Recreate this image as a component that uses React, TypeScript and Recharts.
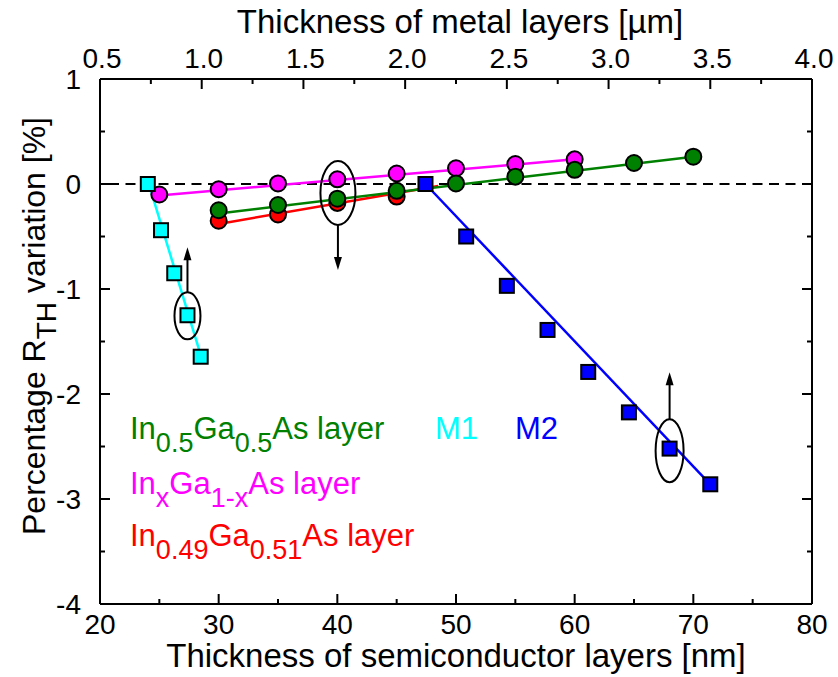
import React from 'react';
import { ComposedChart, Scatter, XAxis, YAxis, ReferenceLine } from 'recharts';

// semiconductor layers (bottom axis, nm)
const inGaAs05Nm = [30, 35, 40, 45, 50, 55, 60, 65, 70];
const inGaAs05Var = [-0.25, -0.2, -0.14, -0.065, 0.005, 0.07, 0.135, 0.2, 0.26];
const inGaAsXNm = [25, 30, 35, 40, 45, 50, 55, 60];
const inGaAsXVar = [-0.1, -0.05, 0.005, 0.045, 0.1, 0.15, 0.19, 0.235];
const inGaAs049Nm = [30, 35, 40, 45];
const inGaAs049Var = [-0.35, -0.29, -0.18, -0.12];

// metal layers (top axis, um)
const m1Um = [0.735, 0.8, 0.865, 0.93, 0.995];
const m1Var = [0, -0.44, -0.85, -1.25, -1.645];
const m2Um = [2.1, 2.3, 2.5, 2.7, 2.9, 3.1, 3.3, 3.5];
const m2Var = [0, -0.5, -0.97, -1.39, -1.79, -2.175, -2.52, -2.86];

// fitted lines (end points)
const fit05 = [{ x: 30, y: -0.28 }, { x: 70, y: 0.26 }];
const fitX = [{ x: 25, y: -0.11 }, { x: 60, y: 0.235 }];
const fit049 = [{ x: 30, y: -0.38 }, { x: 48.5, y: -0.02 }];
const fitM1 = [{ x: 0.74, y: 0 }, { x: 1.0, y: -1.66 }];
const fitM2 = [{ x: 2.1, y: 0 }, { x: 3.5, y: -2.86 }];

// ellipse markers pointing to the axis each group uses
const markM1 = [{ x: 0.93, y: -1.255 }];
const markSemi = [{ x: 40.05, y: -0.085 }];
const markM2 = [{ x: 3.3, y: -2.54 }];

const nmTicks = [20, 25, 30, 35, 40, 45, 50, 55, 60, 65, 70, 75, 80];
const umTicks = [0.5, 0.75, 1, 1.25, 1.5, 1.75, 2, 2.25, 2.5, 2.75, 3, 3.25, 3.5, 3.75, 4];
const yTicks = [-4, -3.5, -3, -2.5, -2, -1.5, -1, -0.5, 0, 0.5, 1];

// label pieces: [text, isSubscript]
const label05: [string, boolean][] = [['In', false], ['0.5', true], ['Ga', false], ['0.5', true], ['As layer', false]];
const labelX: [string, boolean][] = [['In', false], ['x', true], ['Ga', false], ['1-x', true], ['As layer', false]];
const label049: [string, boolean][] = [['In', false], ['0.49', true], ['Ga', false], ['0.51', true], ['As layer', false]];
const labelY: [string, boolean][] = [['Percentage R', false], ['TH', true], [' variation [%]', false]];

const toPoints = (xs: number[], ys: number[]) => xs.map((x, i) => ({ x, y: ys[i] }));

const FONT = '"Liberation Sans", Arial, sans-serif';
const TICK_FS = 28;
const MAJOR = 10;
const MINOR = 5;

const circle = (color: string) => (p: any) => (
  <circle cx={p.cx} cy={p.cy} r={8} fill={color} stroke="#000" strokeWidth={2} />
);
const square = (color: string) => (p: any) => (
  <rect x={p.cx - 7} y={p.cy - 7} width={14} height={14} fill={color} stroke="#000" strokeWidth={2} />
);
const noDot = () => <g />;

const ellipseMark = (rx: number, ry: number, dir: number, len: number) => (p: any) => {
  const start = p.cy + dir * ry;
  const tip = start + dir * len;
  return (
    <g>
      <ellipse cx={p.cx} cy={p.cy} rx={rx} ry={ry} fill="none" stroke="#000" strokeWidth={2} />
      <line x1={p.cx} y1={start} x2={p.cx} y2={tip - dir * 12} stroke="#000" strokeWidth={2} />
      <path d={`M${p.cx - 4},${tip - dir * 13} L${p.cx + 4},${tip - dir * 13} L${p.cx},${tip} Z`} fill="#000" />
    </g>
  );
};

const isMult = (v: number, step: number) => Math.abs(v / step - Math.round(v / step)) < 1e-6;

const BottomTick = (p: any) => {
  const v = p.payload.value;
  const axisY = p.y - 8;
  const major = isMult(v, 10);
  return (
    <g>
      <line x1={p.x} x2={p.x} y1={axisY} y2={axisY - (major ? MAJOR : MINOR)} stroke="#000" strokeWidth={2} />
      {major && (
        <text x={p.x} y={axisY + 30} textAnchor="middle" fontSize={TICK_FS} fontFamily={FONT} fill="#000">
          {v}
        </text>
      )}
    </g>
  );
};

const TopTick = (p: any) => {
  const v = p.payload.value;
  const axisY = p.y + 8;
  const major = isMult(v, 0.5);
  return (
    <g>
      <line x1={p.x} x2={p.x} y1={axisY} y2={axisY + (major ? MAJOR : MINOR)} stroke="#000" strokeWidth={2} />
      {major && (
        <text x={p.x + 2} y={axisY - 11} textAnchor="middle" fontSize={TICK_FS} fontFamily={FONT} fill="#000">
          {v.toFixed(1)}
        </text>
      )}
    </g>
  );
};

const LeftTick = (p: any) => {
  const v = p.payload.value;
  const axisX = p.x + 18;
  const major = isMult(v, 1);
  return (
    <g>
      <line x1={axisX} x2={axisX + (major ? MAJOR : MINOR)} y1={p.y} y2={p.y} stroke="#000" strokeWidth={2} />
      {major && (
        <text x={axisX - 19} y={p.y + 10} textAnchor="end" fontSize={TICK_FS} fontFamily={FONT} fill="#000">
          {String(v)}
        </text>
      )}
    </g>
  );
};

const RightTick = (p: any) => {
  const v = p.payload.value;
  const axisX = p.x - 4;
  const major = isMult(v, 1);
  return <line x1={axisX} x2={axisX - (major ? MAJOR : MINOR)} y1={p.y} y2={p.y} stroke="#000" strokeWidth={2} />;
};

const axisLine = { stroke: '#000', strokeWidth: 2 };

// text with subscripts: each piece shifts relative to the previous one
const pieces = (parts: [string, boolean][], subSize: number, shift: number) =>
  parts.map(([t, sub], i) => {
    const prevSub = i > 0 && parts[i - 1][1];
    const dy = (sub ? shift : 0) - (prevSub ? shift : 0);
    return (
      <tspan key={i} dy={dy} fontSize={sub ? subSize : undefined}>
        {t}
      </tspan>
    );
  });

export default function App() {
  return (
    <div style={{ position: 'absolute', left: 0, top: 0, width: 838, height: 677, background: '#fff' }}>
      <ComposedChart width={838} height={677} margin={{ top: 19, right: 16, bottom: 13, left: 40 }}>
        <XAxis
          xAxisId="nm"
          dataKey="x"
          type="number"
          orientation="bottom"
          domain={[20, 80]}
          ticks={nmTicks}
          interval={0}
          height={60}
          tickSize={0}
          tickMargin={8}
          tickLine={false}
          axisLine={axisLine}
          tick={BottomTick}
          allowDataOverflow
        />
        <XAxis
          xAxisId="um"
          dataKey="x"
          type="number"
          orientation="top"
          domain={[0.5, 4]}
          ticks={umTicks}
          interval={0}
          height={60}
          tickSize={0}
          tickMargin={8}
          tickLine={false}
          axisLine={axisLine}
          tick={TopTick}
          allowDataOverflow
        />
        <YAxis
          yAxisId="left"
          dataKey="y"
          type="number"
          domain={[-4, 1]}
          ticks={yTicks}
          interval={0}
          width={60}
          tickSize={0}
          tickMargin={18}
          tickLine={false}
          axisLine={axisLine}
          tick={LeftTick}
          allowDataOverflow
        />
        <YAxis
          yAxisId="right"
          orientation="right"
          type="number"
          domain={[-4, 1]}
          ticks={yTicks}
          interval={0}
          width={10}
          tickSize={0}
          tickMargin={4}
          tickLine={false}
          axisLine={axisLine}
          tick={RightTick}
          allowDataOverflow
        />

        <ReferenceLine yAxisId="right" xAxisId="nm" y={0} stroke="#000" strokeWidth={2} strokeDasharray="10 6.5" />

        <Scatter xAxisId="nm" yAxisId="left" data={fit049} line={{ stroke: '#ff0000', strokeWidth: 2.5 }} shape={noDot} isAnimationActive={false} />
        <Scatter xAxisId="nm" yAxisId="left" data={fitX} line={{ stroke: '#ff00ff', strokeWidth: 2.5 }} shape={noDot} isAnimationActive={false} />
        <Scatter xAxisId="nm" yAxisId="left" data={fit05} line={{ stroke: '#008000', strokeWidth: 2.5 }} shape={noDot} isAnimationActive={false} />
        <Scatter xAxisId="um" yAxisId="left" data={fitM1} line={{ stroke: '#00ffff', strokeWidth: 2.5 }} shape={noDot} isAnimationActive={false} />
        <Scatter xAxisId="um" yAxisId="left" data={fitM2} line={{ stroke: '#0000ff', strokeWidth: 2.5 }} shape={noDot} isAnimationActive={false} />

        <Scatter xAxisId="nm" yAxisId="left" data={toPoints(inGaAs049Nm, inGaAs049Var)} shape={circle('#ff0000')} isAnimationActive={false} />
        <Scatter xAxisId="nm" yAxisId="left" data={toPoints(inGaAsXNm, inGaAsXVar)} shape={circle('#ff00ff')} isAnimationActive={false} />
        <Scatter xAxisId="nm" yAxisId="left" data={toPoints(inGaAs05Nm, inGaAs05Var)} shape={circle('#008000')} isAnimationActive={false} />
        <Scatter xAxisId="um" yAxisId="left" data={toPoints(m1Um, m1Var)} shape={square('#00ffff')} isAnimationActive={false} />
        <Scatter xAxisId="um" yAxisId="left" data={toPoints(m2Um, m2Var)} shape={square('#0000ff')} isAnimationActive={false} />

        <Scatter xAxisId="um" yAxisId="left" data={markM1} shape={ellipseMark(13, 23.5, -1, 45)} isAnimationActive={false} />
        <Scatter xAxisId="nm" yAxisId="left" data={markSemi} shape={ellipseMark(17.5, 32, 1, 45)} isAnimationActive={false} />
        <Scatter xAxisId="um" yAxisId="left" data={markM2} shape={ellipseMark(14, 31.5, -1, 47)} isAnimationActive={false} />
      </ComposedChart>

      <svg
        width={838}
        height={677}
        style={{ position: 'absolute', left: 0, top: 0, pointerEvents: 'none' }}
        fontFamily={FONT}
      >
        <text x={460} y={33} textAnchor="middle" fontSize={33} fill="#000">
          Thickness of metal layers [µm]
        </text>
        <text x={456} y={667} textAnchor="middle" fontSize={33} fill="#000">
          Thickness of semiconductor layers [nm]
        </text>
        <text x={45} y={326} transform="rotate(-90 45 326)" textAnchor="middle" fontSize={32} fill="#000">
          {pieces(labelY, 28, 11)}
        </text>

        <text x={130} y={439} fontSize={31} fill="#008000">
          {pieces(label05, 27, 13)}
        </text>
        <text x={435} y={439} fontSize={31} fill="#00ffff">
          M1
        </text>
        <text x={515} y={439} fontSize={31} fill="#0000ff">
          M2
        </text>
        <text x={130} y={494} fontSize={31} fill="#ff00ff">
          {pieces(labelX, 27, 13)}
        </text>
        <text x={130} y={546} fontSize={31} fill="#ff0000">
          {pieces(label049, 27, 13)}
        </text>
      </svg>
    </div>
  );
}
